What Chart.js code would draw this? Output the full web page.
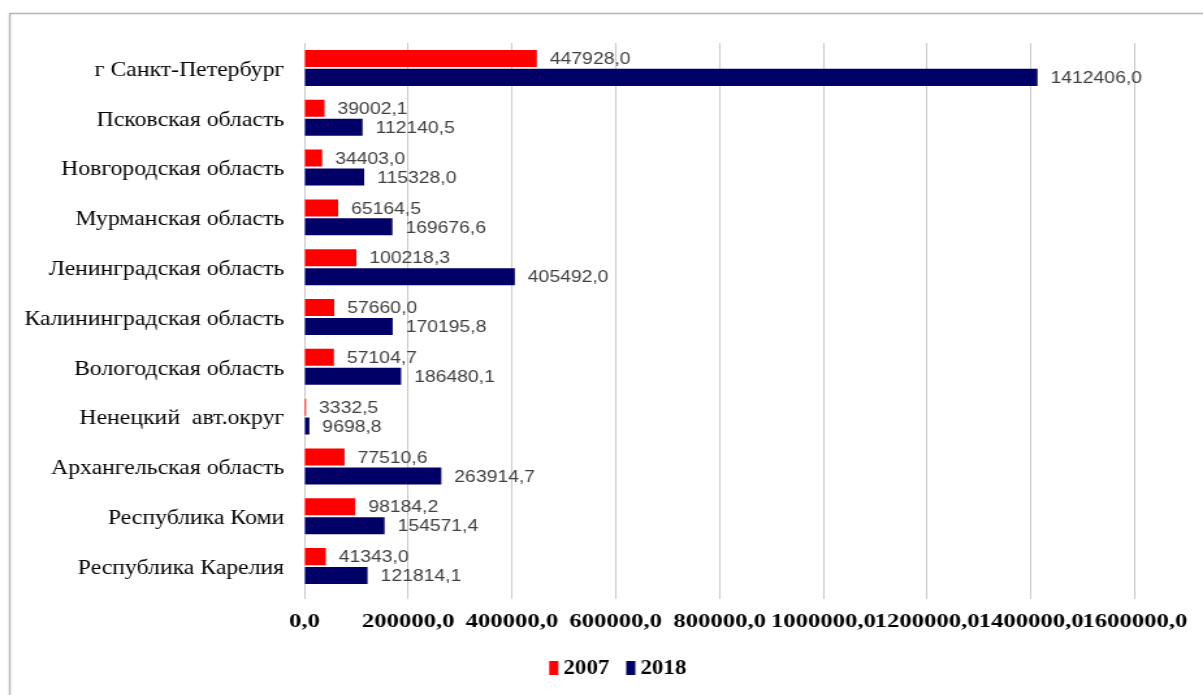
<!DOCTYPE html>
<html>
<head>
<meta charset="utf-8">
<script src="https://cdn.jsdelivr.net/npm/chart.js"></script>
<style>
  html, body { margin: 0; padding: 0; background: #fff; overflow: hidden; }
  /* the original picture is stretched sideways, so the canvas is drawn narrow and widened */
  #chart { width: 1203px !important; height: 695px !important; display: block; }
</style>
</head>
<body>
<canvas id="chart" width="925" height="695"></canvas>
<script>
const regions = [
  "г Санкт-Петербург",
  "Псковская область",
  "Новгородская область",
  "Мурманская область",
  "Ленинградская область",
  "Калининградская область",
  "Вологодская область",
  "Ненецкий  авт.округ",
  "Архангельская область",
  "Республика Коми",
  "Республика Карелия"
];
const values2007 = [447928.0, 39002.1, 34403.0, 65164.5, 100218.3, 57660.0, 57104.7, 3332.5, 77510.6, 98184.2, 41343.0];
const values2018 = [1412406.0, 112140.5, 115328.0, 169676.6, 405492.0, 170195.8, 186480.1, 9698.8, 263914.7, 154571.4, 121814.1];
const seriesNames = ["2007", "2018"];
const seriesColors = ["#ff0000", "#000066"];
const xMax = 1600000;
const xStep = 200000;

function fmt(v) {
  return Number(v).toFixed(1).replace('.', ',');
}

const frame = {
  id: 'frame',
  beforeDraw(chart) {
    const ctx = chart.ctx;
    ctx.save();
    ctx.strokeStyle = '#b4b4b4';
    ctx.lineWidth = 1.5;
    ctx.strokeRect(7.5, 13.5, 2000, 2000);
    ctx.restore();
  }
};

// category names, drawn squeezed like in the source picture
const categoryLabels = {
  id: 'categoryLabels',
  afterDraw(chart) {
    const ctx = chart.ctx;
    const ys = chart.scales.y;
    ctx.save();
    ctx.font = '22px "Liberation Serif", "Times New Roman", serif';
    ctx.fillStyle = '#000';
    ctx.textAlign = 'right';
    ctx.textBaseline = 'middle';
    chart.data.labels.forEach((name, i) => {
      ctx.save();
      ctx.translate(218.5, ys.getPixelForValue(i) + 2);
      ctx.scale(0.83, 1);
      ctx.fillText(name, 0, 0);
      ctx.restore();
    });
    ctx.restore();
  }
};

const valueLabels = {
  id: 'valueLabels',
  afterDatasetsDraw(chart) {
    const ctx = chart.ctx;
    ctx.save();
    ctx.font = '17px "Liberation Sans", Arial, sans-serif';
    ctx.fillStyle = '#404040';
    ctx.textAlign = 'left';
    ctx.textBaseline = 'middle';
    chart.data.datasets.forEach((ds, i) => {
      chart.getDatasetMeta(i).data.forEach((bar, j) => {
        ctx.save();
        ctx.translate(bar.x + 10, bar.y + 1);
        ctx.scale(0.875, 1);
        ctx.fillText(fmt(ds.data[j]), 0, 0);
        ctx.restore();
      });
    });
    ctx.restore();
  }
};

const bottomLegend = {
  id: 'bottomLegend',
  afterDraw(chart) {
    const ctx = chart.ctx;
    ctx.save();
    ctx.font = 'bold 20px "Liberation Serif", "Times New Roman", serif';
    ctx.textBaseline = 'middle';
    const sx = 0.88;
    const box = 7, gap = 4, between = 13;
    const items = chart.data.datasets.map(ds => ({ text: ds.label, color: ds.backgroundColor, w: ctx.measureText(ds.label).width * sx }));
    let total = 0;
    items.forEach((it, i) => { total += box + gap + it.w + (i ? between : 0); });
    let x = 475 - total / 2;
    const y = 668;
    items.forEach(it => {
      ctx.fillStyle = it.color;
      ctx.fillRect(x, y - 7, box, 14);
      ctx.fillStyle = '#000';
      ctx.save();
      ctx.translate(x + box + gap, y + 1);
      ctx.scale(sx, 1);
      ctx.fillText(it.text, 0, 0);
      ctx.restore();
      x += box + gap + it.w + between;
    });
    ctx.restore();
  }
};

new Chart(document.getElementById('chart'), {
  type: 'bar',
  data: {
    labels: regions,
    datasets: [
      { label: seriesNames[0], data: values2007, backgroundColor: seriesColors[0], barPercentage: 0.9, categoryPercentage: 0.76 },
      { label: seriesNames[1], data: values2018, backgroundColor: seriesColors[1], barPercentage: 0.9, categoryPercentage: 0.76 }
    ]
  },
  options: {
    indexAxis: 'y',
    responsive: false,
    animation: false,
    layout: { padding: { top: 43, right: 50, bottom: 44, left: 0 } },
    plugins: {
      legend: { display: false },
      tooltip: { enabled: false }
    },
    scales: {
      x: {
        min: 0,
        max: xMax,
        ticks: {
          stepSize: xStep,
          autoSkip: false,
          maxRotation: 0,
          padding: 12,
          color: '#000',
          font: { family: '"Liberation Serif", "Times New Roman", serif', size: 19, weight: 'bold' },
          callback: v => fmt(v)
        },
        grid: { color: '#c8c8c8', lineWidth: 1, tickLength: 8, drawTicks: true },
        border: { display: false },
        afterFit: s => { s.height = 60; }
      },
      y: {
        ticks: { display: false },
        grid: { display: false },
        border: { display: false },
        afterFit: s => { s.width = 234; }
      }
    }
  },
  plugins: [frame, categoryLabels, valueLabels, bottomLegend]
});
</script>
</body>
</html>
